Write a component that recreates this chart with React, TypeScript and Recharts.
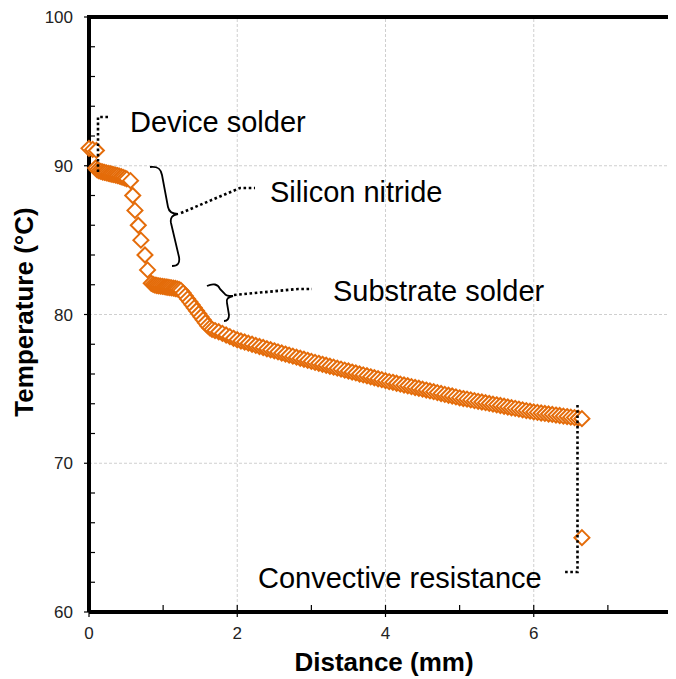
import React from 'react';
import {
  ScatterChart,
  Scatter,
  XAxis,
  YAxis,
  CartesianGrid,
  ReferenceLine,
} from 'recharts';

// device solder layer
const deviceSolderX = [0, 0.05, 0.1];
const deviceSolderT = [91.17, 91.1, 91.03];

// silicon nitride: flat start then steep drop
const nitrideX = [
  0.09, 0.11, 0.135, 0.16, 0.185, 0.21, 0.235, 0.26, 0.285, 0.31, 0.335, 0.36,
  0.385, 0.41, 0.435, 0.46, 0.485, 0.51, 0.56, 0.59, 0.62, 0.665, 0.7, 0.755,
  0.79,
];
const nitrideT = [
  89.85, 89.72, 89.66, 89.62, 89.58, 89.55, 89.52, 89.49, 89.46, 89.43, 89.4,
  89.37, 89.34, 89.3, 89.26, 89.22, 89.17, 89.12, 89.0, 88.0, 87.0, 86.0, 85.0,
  84.0, 83.0,
];

// substrate solder: plateau then slope
const substrateSolderX = [
  0.84, 0.865, 0.89, 0.915, 0.94, 0.965, 0.99, 1.015, 1.04, 1.065, 1.09, 1.115,
  1.14, 1.165, 1.19, 1.215, 1.24, 1.27, 1.3, 1.33, 1.36, 1.39, 1.42, 1.45, 1.48,
  1.51, 1.54, 1.57, 1.6, 1.63, 1.66, 1.7,
];
const substrateSolderT = [
  82.1, 82.02, 81.98, 81.95, 81.93, 81.91, 81.89, 81.87, 81.85, 81.83, 81.81,
  81.79, 81.77, 81.75, 81.72, 81.68, 81.62, 81.45, 81.25, 81.05, 80.85, 80.65,
  80.45, 80.25, 80.05, 79.85, 79.65, 79.45, 79.25, 79.1, 79.0, 78.92,
];

// substrate
const substrateX = [
  1.75, 1.8, 1.85, 1.9, 1.95, 2.0, 2.05, 2.1, 2.15, 2.2, 2.25, 2.3, 2.35, 2.4,
  2.45, 2.5, 2.55, 2.6, 2.65, 2.7, 2.75, 2.8, 2.85, 2.9, 2.95, 3.0, 3.05, 3.1,
  3.15, 3.2, 3.25, 3.3, 3.35, 3.4, 3.45, 3.5, 3.55, 3.6, 3.65, 3.7, 3.75, 3.8,
  3.85, 3.9, 3.95, 4.0, 4.05, 4.1, 4.15, 4.2, 4.25, 4.3, 4.35, 4.4, 4.45, 4.5,
  4.55, 4.6, 4.65, 4.7, 4.75, 4.8, 4.85, 4.9, 4.95, 5.0, 5.05, 5.1, 5.15, 5.2,
  5.25, 5.3, 5.35, 5.4, 5.45, 5.5, 5.55, 5.6, 5.65, 5.7, 5.75, 5.8, 5.85, 5.9,
  5.95, 6.0, 6.05, 6.1, 6.15, 6.2, 6.25, 6.3, 6.35, 6.4, 6.45, 6.5, 6.55, 6.6,
  6.65,
];
const substrateT = [
  78.84, 78.73, 78.62, 78.51, 78.4, 78.3, 78.22, 78.15, 78.07, 78.0, 77.92,
  77.85, 77.78, 77.7, 77.63, 77.56, 77.49, 77.41, 77.34, 77.27, 77.2, 77.13,
  77.06, 76.99, 76.92, 76.85, 76.78, 76.72, 76.65, 76.59, 76.52, 76.46, 76.39,
  76.33, 76.26, 76.2, 76.13, 76.07, 76.0, 75.94, 75.88, 75.81, 75.75, 75.68,
  75.62, 75.55, 75.49, 75.44, 75.38, 75.32, 75.26, 75.21, 75.15, 75.09, 75.04,
  74.98, 74.92, 74.86, 74.81, 74.75, 74.69, 74.63, 74.57, 74.52, 74.46, 74.4,
  74.35, 74.31, 74.26, 74.21, 74.16, 74.12, 74.07, 74.02, 73.97, 73.93, 73.88,
  73.83, 73.78, 73.73, 73.69, 73.64, 73.59, 73.54, 73.5, 73.45, 73.42, 73.38,
  73.35, 73.31, 73.28, 73.24, 73.21, 73.17, 73.14, 73.1, 73.07, 73.03, 73.0,
];

// convective resistance (ambient side)
const convectiveX = [6.65];
const convectiveT = [65.0];

const xTicks = [0, 1, 2, 3, 4, 5, 6, 7, 8];
const yTicks = [
  60, 62, 64, 66, 68, 70, 72, 74, 76, 78, 80, 82, 84, 86, 88, 90, 92, 94, 96,
  98, 100,
];
const xGrid = [2, 4, 6];
const yGrid = [70, 80, 90];

const toPoints = (xs: number[], ts: number[]) =>
  xs.map((x, i) => ({ x, y: ts[i] }));

const points = [
  ...toPoints(deviceSolderX, deviceSolderT),
  ...toPoints(nitrideX, nitrideT),
  ...toPoints(substrateSolderX, substrateSolderT),
  ...toPoints(substrateX, substrateT),
  ...toPoints(convectiveX, convectiveT),
];

const ORANGE = '#E46C0A';
const GRID = '#cfcfcf';
const FONT = '"Liberation Sans", Arial, sans-serif';

const Diamond = (props: any) => {
  const { cx, cy } = props;
  const r = 7.5;
  return (
    <polygon
      points={`${cx},${cy - r} ${cx + r},${cy} ${cx},${cy + r} ${cx - r},${cy}`}
      fill="#fff"
      stroke={ORANGE}
      strokeWidth={2}
    />
  );
};

const YTick = (props: any) => {
  const { x, y, payload } = props;
  const v = payload.value;
  if (v % 10 !== 0) {
    return <line x1={x} x2={x + 6} y1={y} y2={y} stroke="#000" strokeWidth={1.2} />;
  }
  return (
    <g>
      <line x1={x - 5} x2={x} y1={y} y2={y} stroke="#000" strokeWidth={1.2} />
      <text x={x - 16} y={y + 6} textAnchor="end" fontSize={17} fill="#222" fontFamily={FONT}>
        {v}
      </text>
    </g>
  );
};

const XTick = (props: any) => {
  const { x, y, payload } = props;
  const v = payload.value;
  const major = v % 2 === 0;
  return (
    <g>
      <line x1={x} x2={x} y1={y - 7} y2={major ? y + 5 : y} stroke="#000" strokeWidth={1.2} />
      {major && (
        <text x={x} y={y + 27} textAnchor="middle" fontSize={17} fill="#222" fontFamily={FONT}>
          {v}
        </text>
      )}
    </g>
  );
};

const dotted = { stroke: '#000', strokeWidth: 2.6, strokeDasharray: '2.6 2.6', fill: 'none' };
const brace = { stroke: '#000', strokeWidth: 1.8, fill: 'none' };
const note = { fontSize: 29, fontFamily: FONT, fill: '#000' };

export default function App() {
  return (
    <div style={{ width: 668, height: 671, position: 'relative' }}>
      <style>{'html{overflow:hidden} body{margin:8px 8px 0 8px}'}</style>
      <div style={{ position: 'absolute', left: 0, top: 0, width: 668, height: 671, overflow: 'hidden' }}>
        <ScatterChart width={690} height={671} margin={{ top: 9, right: 16, bottom: 0, left: 0 }}>
          <CartesianGrid
            stroke={GRID}
            strokeDasharray="3 2"
            vertical={false}
            horizontalValues={yGrid}
          />
          {xGrid.map((v) => (
            <ReferenceLine key={v} x={v} stroke={GRID} strokeDasharray="3 2" />
          ))}
          <XAxis
            type="number"
            dataKey="x"
            domain={[0, 8]}
            ticks={xTicks}
            interval={0}
            tickSize={0}
            tickMargin={0}
            tickLine={false}
            tick={XTick}
            height={67}
            axisLine={{ stroke: '#000', strokeWidth: 4 }}
          />
          <YAxis
            type="number"
            dataKey="y"
            domain={[60, 100]}
            ticks={yTicks}
            interval={0}
            tickSize={0}
            tickMargin={0}
            tickLine={false}
            tick={YTick}
            width={81}
            axisLine={{ stroke: '#000', strokeWidth: 4 }}
          />
          <ReferenceLine y={100} stroke="#000" strokeWidth={4} strokeLinecap="square" />
          <Scatter data={points} shape={Diamond} isAnimationActive={false} />
        </ScatterChart>
      </div>
      <svg
        width={668}
        height={671}
        style={{ position: 'absolute', left: 0, top: 0, pointerEvents: 'none' }}
      >
        <text
          x={16}
          y={304}
          transform="rotate(-90 16 304)"
          textAnchor="middle"
          dominantBaseline="central"
          fontSize={26}
          fontWeight="bold"
          fontFamily={FONT}
        >
          Temperature (°C)
        </text>
        <text x={376} y={663} textAnchor="middle" fontSize={26} fontWeight="bold" fontFamily={FONT}>
          Distance (mm)
        </text>

        <polyline points="90,164 90,109 102,109" {...dotted} />
        <text x={122} y={124} {...note}>Device solder</text>

        <path
          d="M142,159 C150,158 153,161 154,167 L160,199 C161,204 164,206 170,206 C164,207 162,210 163,215 L171,249 C172,255 170,258 164,258"
          {...brace}
        />
        <polyline points="173,205 232,180 247,180" {...dotted} />
        <text x={262} y={194} {...note}>Silicon nitride</text>

        <path
          d="M199,278 C205,275 210,276 212,281 L216,285 C218,288 220,288 225,288 C220,289 218,291 219,295 L221,307 C221,311 220,313 216,313"
          {...brace}
        />
        <polyline points="226,287 290,281 304,281" {...dotted} />
        <text x={325} y={293} {...note}>Substrate solder</text>

        <polyline points="569.5,397 569.5,564 556,564" {...dotted} />
        <text x={250} y={580} {...note}>Convective resistance</text>
      </svg>
    </div>
  );
}
